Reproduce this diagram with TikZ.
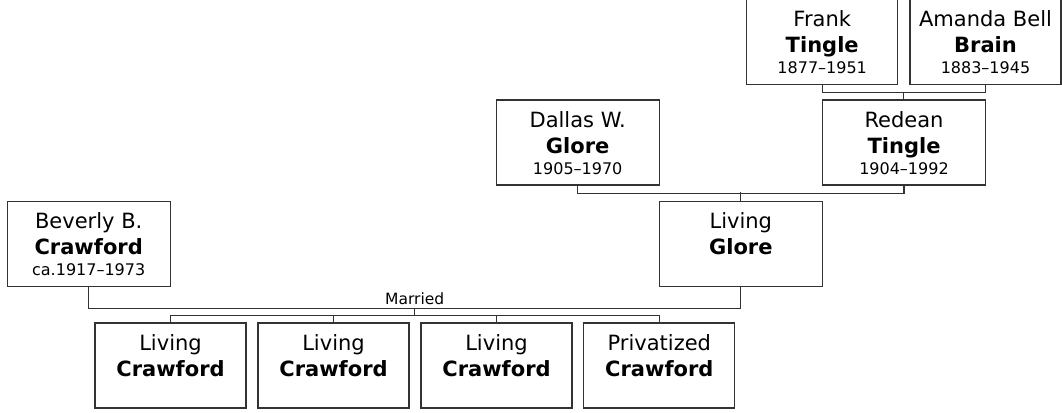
\documentclass[tikz,border=0pt]{standalone}
\usepackage{fontspec}
\setmainfont{DejaVu Sans}
\usetikzlibrary{positioning,calc}

% three lines of a person box: given name, surname, dates
\newcommand{\pname}[3]{#1\\\textbf{#2}\\[-5pt]{\fontsize{16}{19}\selectfont #3\strut}}

\begin{document}
\begin{tikzpicture}[x=1pt, y=-1pt, line cap=rect,
  person/.style={draw=black!80, line width=1.2pt, fill=white, inner sep=0pt,
    minimum width=163pt, align=center, text height=74pt, text depth=11pt,
    font=\fontsize{21}{26}\selectfont},
  narrow/.style={person, minimum width=151pt},
  link/.style={draw=black!80, line width=1.2pt}]

\useasboundingbox[fill=white] (0,0) rectangle (1062,412);

\node[narrow] (frank) at (822.2,42) {\pname{Frank}{Tingle}{1877–1951}};
\node[narrow] (amanda) at (985.5,42) {\pname{Amanda Bell}{Brain}{1883–1945}};
\node[person] (dallas) at (577.7,142.5) {\pname{Dallas W.}{Glore}{1905–1970}};
\node[person] (redean) at (904,142.5) {\pname{Redean}{Tingle}{1904–1992}};
\node[person] (glore) at (740.8,243.8) {\pname{Living}{Glore}{}};
\node[person] (beverly) at (88.7,243.8) {\pname{Beverly B.}{Crawford}{ca.1917–1973}};
\node[narrow] (kid1) at (170.5,365.5) {\pname{Living}{Crawford}{}};
\node[narrow] (kid2) at (333.5,365.5) {\pname{Living}{Crawford}{}};
\node[narrow] (kid3) at (496.5,365.5) {\pname{Living}{Crawford}{}};
\node[narrow] (kid4) at (659.3,365.5) {\pname{Privatized}{Crawford}{}};

% Tingle + Brain
\draw[link] (frank.south) -- ++(0,7.2) -| (amanda.south);
\draw[link] ($(frank.south)!0.5!(amanda.south)$) ++(0,7.2) coordinate (tb) -- (tb |- redean.north);
% Glore + Tingle
\draw[link] (dallas.south) -- ++(0,7.8) -| (redean.south);
\draw[link] (glore.north) -- ++(0,-7.8);
% Crawford + Glore
\draw[link] (beverly.south) -- ++(0,21.2) coordinate (m1) -| (glore.south);
\node[font=\fontsize{15.5}{18}\selectfont, anchor=base] (married) at (414.7,304) {Married};
\draw[link] (married.base |- m1) -- ++(0,7) coordinate (m2);
\draw[link] (kid1.north) -- (kid1.north |- m2) -- (kid4.north |- m2) -- (kid4.north);
\draw[link] (kid2.north) -- (kid2.north |- m2);
\draw[link] (kid3.north) -- (kid3.north |- m2);

\end{tikzpicture}
\end{document}
